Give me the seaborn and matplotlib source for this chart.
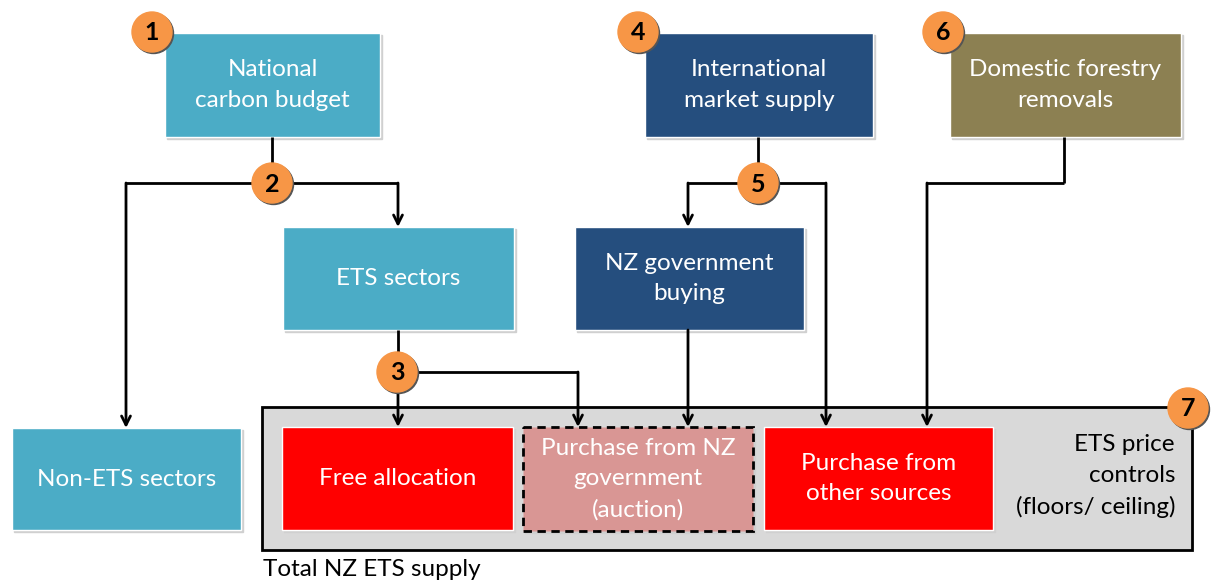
import matplotlib
matplotlib.use("Agg")
import matplotlib.pyplot as plt
from matplotlib.patches import Rectangle, Circle
import seaborn as sns

# Labels of the diagram boxes
top_labels = ["National\ncarbon budget", "International\nmarket supply", "Domestic forestry\nremovals"]
mid_labels = ["ETS sectors", "NZ government\nbuying"]
supply_labels = ["Free allocation", "Purchase from NZ\ngovernment\n(auction)", "Purchase from\nother sources"]
other_label = "Non-ETS sectors"
controls_label = "ETS price\ncontrols\n(floors/ ceiling)"
total_label = "Total NZ ETS supply"
step_numbers = ["1", "2", "3", "4", "5", "6", "7"]

LIGHT_BLUE = "#4bacc6"
DARK_BLUE = "#254e7e"
OLIVE = "#8c8052"
RED = "#ff0000"
PINK = "#d99694"
ORANGE = "#f79646"
GRAY = "#d9d9d9"

sns.set_style("white")
plt.rcParams["font.family"] = ["Lato", "DejaVu Sans"]

fig = plt.figure(figsize=(12.18, 5.86), dpi=100)
ax = fig.add_axes([0, 0, 1, 1])
ax.set_xlim(0, 1218)
ax.set_ylim(586, 0)
ax.axis("off")

FS = 17.5
LS = 1.55


def box(x0, y0, x1, y1, color, text, text_color="white", **kw):
    ax.add_patch(Rectangle((x0 + 2, y0 + 2), x1 - x0, y1 - y0, color="#d0d0d0", zorder=1))
    ax.add_patch(Rectangle((x0, y0), x1 - x0, y1 - y0, facecolor=color, zorder=2, **kw))
    ax.text((x0 + x1) / 2, (y0 + y1) / 2, text, ha="center", va="center", color=text_color,
            fontsize=FS, linespacing=LS, zorder=5)


def badge(x, y, num):
    ax.add_patch(Circle((x + 1.5, y + 1.5), 20, color="#555555", zorder=6))
    ax.add_patch(Circle((x, y), 20, color=ORANGE, zorder=7))
    ax.text(x, y + 1, num, ha="center", va="center", fontsize=18, fontweight="bold",
            color="black", zorder=8)


def line(xs, ys):
    ax.plot(xs, ys, color="black", lw=2, zorder=3, solid_capstyle="butt")


def arrow(x, y0, y1):
    ax.annotate("", xy=(x, y1), xytext=(x, y0),
                arrowprops=dict(arrowstyle="->", color="black", lw=2, mutation_scale=16,
                                shrinkA=0, shrinkB=0), zorder=4)


# Total supply panel
ax.add_patch(Rectangle((262, 407), 930, 143, facecolor=GRAY, edgecolor="black", lw=2, zorder=1))
ax.text(1175, 476, controls_label, ha="right", va="center", fontsize=FS, color="black",
        linespacing=LS, zorder=5)
ax.text(263, 569, total_label, ha="left", va="center", fontsize=FS, color="black")

# Connectors
line([272, 272], [137, 183])
line([126, 398], [183, 183])
arrow(126, 183, 428)
arrow(398, 183, 227)
line([398, 398], [330, 372])
arrow(398, 372, 427)
line([398, 578], [372, 372])
arrow(578, 372, 427)
arrow(688, 330, 427)
line([758, 758], [137, 183])
line([688, 826], [183, 183])
arrow(688, 183, 227)
arrow(826, 183, 427)
line([1064, 1064], [137, 183])
line([927, 1064], [183, 183])
arrow(927, 183, 427)

# Boxes
box(165, 33, 380, 137, LIGHT_BLUE, top_labels[0])
box(645, 33, 873, 137, DARK_BLUE, top_labels[1])
box(950, 33, 1181, 137, OLIVE, top_labels[2])
box(283, 227, 514, 330, LIGHT_BLUE, mid_labels[0])
box(575, 227, 804, 330, DARK_BLUE, mid_labels[1])
box(12, 428, 241, 530, LIGHT_BLUE, other_label)
box(282, 427, 513, 530, RED, supply_labels[0])
box(523, 427, 753, 531, PINK, supply_labels[1], edgecolor="black", lw=2, linestyle=(0, (3, 2)))
box(764, 427, 993, 530, RED, supply_labels[2])

# Numbered badges
for (bx, by), num in zip([(152, 32), (272, 183), (397, 372), (638, 32), (758, 183), (943, 32), (1188, 408)],
                         step_numbers):
    badge(bx, by, num)

fig.savefig("out.png", dpi=100)
